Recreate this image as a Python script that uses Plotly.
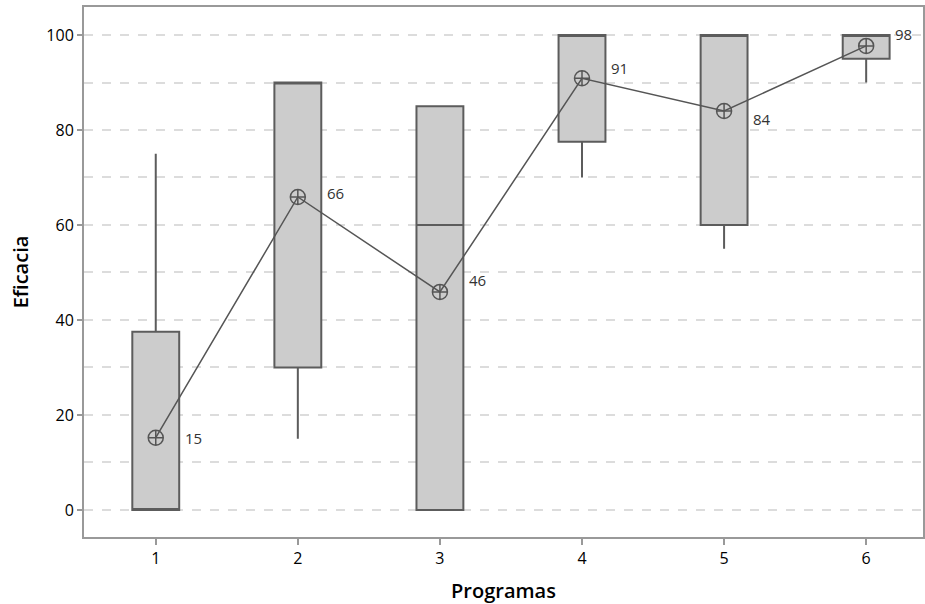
import plotly.graph_objects as go

programas = [1, 2, 3, 4, 5, 6]
q1 = [0, 30, 0, 77.5, 60, 95]
mediana = [0, 90, 60, 100, 100, 100]
q3 = [37.5, 90, 85, 100, 100, 100]
lower = [0, 15, 0, 70, 55, 90]
upper = [75, 90, 85, 100, 100, 100]
medias = [15.2, 65.9, 45.9, 90.9, 84.0, 97.7]
etiquetas = ["15", "66", "46", "91", "84", "98"]
label_dy = [0, 4, 12, 10, -8, 12]

FONT = "Open Sans"
fig = go.Figure()
fig.add_trace(go.Box(
    x=programas, q1=q1, median=mediana, q3=q3,
    lowerfence=lower, upperfence=upper,
    width=0.33, whiskerwidth=0, fillcolor="#cccccc",
    line=dict(color="#5c5c5c", width=2),
    boxpoints=False, showlegend=False, hoverinfo="skip"))
fig.add_trace(go.Scatter(
    x=programas, y=medias, mode="lines+markers",
    line=dict(color="#555555", width=1.5),
    marker=dict(symbol="circle-cross-open", size=15,
                color="#555555", line=dict(width=1.5, color="#555555")),
    showlegend=False))

for x, y, t, dy in zip(programas, medias, etiquetas, label_dy):
    fig.add_annotation(x=x, y=y, text=t, showarrow=False,
                       xanchor="left", yanchor="middle",
                       xshift=27, yshift=dy,
                       font=dict(family=FONT, size=15, color="#333333"))

fig.update_layout(
    width=925, height=604,
    margin=dict(l=84, r=0, t=7, b=67),
    plot_bgcolor="white", paper_bgcolor="white",
    font=dict(family=FONT, size=14, color="black"),
)
fig.update_xaxes(
    range=[0.495, 6.4], tickvals=programas, ticktext=[str(p) for p in programas],
    showgrid=False, zeroline=False,
    showline=True, linecolor="#999999", linewidth=2, mirror=True,
    ticks="outside", ticklen=6, tickcolor="#999999", tickwidth=2,
    tickfont=dict(family=FONT, size=16, color="black", weight=500),
    title=dict(text="Programas", font=dict(family=FONT, size=20, color="black", weight=600), standoff=16),
)
fig.update_yaxes(
    range=[-5.7, 105.9], tickvals=[0, 20, 40, 60, 80, 100],
    showgrid=True, gridcolor="#dcdcdc", griddash="dash", gridwidth=1.5,
    minor=dict(dtick=10, tick0=0, showgrid=True, gridcolor="#dcdcdc", griddash="dash", gridwidth=1.5),
    zeroline=False,
    showline=True, linecolor="#999999", linewidth=2, mirror=True,
    ticks="outside", ticklen=5, tickcolor="#999999", tickwidth=2,
    tickfont=dict(family=FONT, size=16, color="black", weight=500),
    title=dict(text="Eficacia", font=dict(family=FONT, size=20, color="black", weight=600), standoff=12),
)

fig.write_html("out.html")
